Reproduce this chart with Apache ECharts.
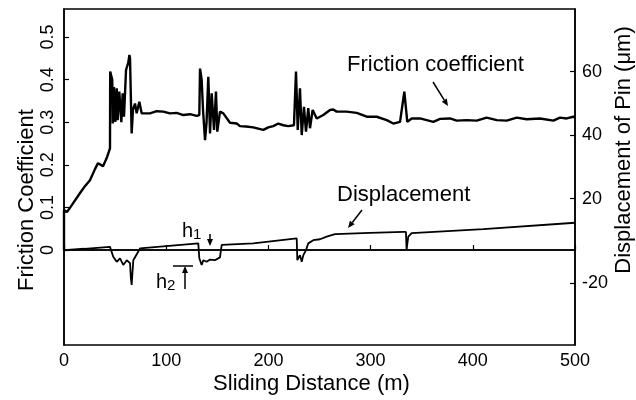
<!DOCTYPE html>
<html>
<head>
<meta charset="utf-8">
<script src="https://cdn.jsdelivr.net/npm/echarts@6/dist/echarts.min.js"></script>
<style>
  html, body { margin: 0; padding: 0; background: #fff; }
  #chart { width: 636px; height: 400px; }
</style>
</head>
<body>
<div id="chart"></div>
<script>
// [sliding distance (m), friction coefficient]
const friction = [
    [0, 0], [0, 0.094], [2.9, 0.089], [7.8, 0.106], [15.7, 0.134], [20.5, 0.150],
    [25.4, 0.164], [30.3, 0.190], [33.3, 0.204], [38.2, 0.197], [42.1, 0.218], [45.0, 0.239],
    [45.2, 0.419], [47.2, 0.40], [47.7, 0.297], [48.9, 0.383], [50.2, 0.301], [51.6, 0.380],
    [52.5, 0.305], [54.1, 0.372], [56.1, 0.30], [57.4, 0.368], [58.7, 0.313], [60.7, 0.423],
    [62.9, 0.44], [64.0, 0.458], [64.6, 0.45], [66.2, 0.274], [67.5, 0.33], [69.5, 0.344],
    [71.1, 0.321], [73.7, 0.348], [76.0, 0.321], [77.6, 0.321], [84.1, 0.321], [90.7, 0.326],
    [97.2, 0.325], [103.7, 0.321], [110.3, 0.322], [116.7, 0.317], [123.3, 0.319], [129.8, 0.315],
    [132.4, 0.317], [133.1, 0.426], [134.7, 0.40], [136.0, 0.33], [138.0, 0.258], [139.5, 0.30],
    [141.2, 0.407], [142.9, 0.274], [144.5, 0.368], [146.8, 0.282], [148.7, 0.372], [150.0, 0.278],
    [152.6, 0.325], [155.9, 0.321], [162.4, 0.299], [169.0, 0.297], [172.2, 0.291], [178.0, 0.290],
    [185.2, 0.288], [195.0, 0.282], [199.9, 0.288], [204.8, 0.291], [209.7, 0.297], [214.6, 0.293],
    [219.5, 0.291], [225.0, 0.293], [227.0, 0.419], [228.7, 0.282], [230.9, 0.38], [232.6, 0.27],
    [234.8, 0.336], [236.8, 0.278], [239.0, 0.333], [240.7, 0.286], [243.3, 0.329], [247.3, 0.309],
    [253.7, 0.317], [260.3, 0.329], [263.5, 0.330], [266.8, 0.325], [276.6, 0.325], [286.4, 0.322],
    [296.2, 0.313], [306.0, 0.313], [315.8, 0.305], [322.2, 0.297], [328.8, 0.301], [333.0, 0.372],
    [334.6, 0.368], [335.9, 0.301], [340.2, 0.309], [348.3, 0.309], [354.9, 0.305], [361.4, 0.301],
    [367.9, 0.308], [377.7, 0.309], [384.2, 0.304], [394.0, 0.305], [403.8, 0.304], [413.6, 0.311],
    [423.4, 0.305], [433.2, 0.304], [443.0, 0.311], [452.7, 0.307], [465.8, 0.309], [478.8, 0.304],
    [485.3, 0.311], [491.9, 0.309], [498.3, 0.313], [500, 0.312]
];

// [sliding distance (m), pin displacement (um)]
const displacement = [
    [0, 3.8], [20, 4.2], [45.0, 4.8], [46.7, 4.3], [48.2, 1.7], [51.6, 0.1], [54.8, 1.2],
    [58.0, -0.9], [61.4, 0.6], [64.6, -0.3], [65.4, -5.0], [66.2, -7.2], [67.8, 0.6],
    [74.4, 4.3], [76.0, 4.8], [131.4, 5.9], [132.4, 1.2], [134.7, -0.9], [136.3, 0.6],
    [139.6, 0.1], [142.9, 0.8], [147.7, 0.6], [152.6, 1.5], [154.3, 5.4], [185.2, 5.9],
    [227.7, 7.5], [228.3, 0.6], [229.3, 0.1], [230.9, 2.2], [232.6, 0.1], [234.2, 2.2],
    [236.8, 3.8], [239.0, 5.9], [243.9, 6.9], [250.5, 7.2], [257.0, 8.0], [265.2, 8.8],
    [299.4, 9.2], [332.0, 9.5], [334.6, 9.5], [335.2, 3.8], [336.0, 6.0], [336.9, 8.0],
    [340.2, 9.1], [341.8, 9.3], [410.3, 10.4], [500, 12.4]
];

const distanceTicks = [0, 100, 200, 300, 400, 500];
const frictionTicks = [0, 0.1, 0.2, 0.3, 0.4, 0.5];
const pinTickValues = [-6.6, 20, 40, 60];
const pinTickLabels = ['-20', '20', '40', '60'];

const font = '"Liberation Sans", Arial, Helvetica, sans-serif';

function arrow(x1, y1, x2, y2) {
    const a = Math.atan2(y2 - y1, x2 - x1);
    const len = 7, w = 3;
    const bx = x2 - len * Math.cos(a), by = y2 - len * Math.sin(a);
    return {
        type: 'group',
        children: [
            {type: 'line', shape: {x1: x1, y1: y1, x2: bx, y2: by}, style: {stroke: '#000', lineWidth: 1.5}},
            {type: 'polygon', shape: {points: [
                [x2, y2],
                [bx + w * Math.sin(a), by - w * Math.cos(a)],
                [bx - w * Math.sin(a), by + w * Math.cos(a)]
            ]}, style: {fill: '#000'}}
        ]
    };
}

function label(text, x, y, size) {
    return {
        type: 'text', x: x, y: y,
        style: {text: text, font: size + 'px ' + font, fill: '#000', verticalAlign: 'middle'}
    };
}

function subLabel(main, sub, x, y) {
    return {
        type: 'text', x: x, y: y,
        style: {
            text: '{m|' + main + '}{s|' + sub + '}',
            verticalAlign: 'middle',
            rich: {
                m: {fontSize: 20, fontFamily: font, fill: '#000'},
                s: {fontSize: 15, fontFamily: font, fill: '#000', padding: [8, 0, 0, 0]}
            }
        }
    };
}

const chart = echarts.init(document.getElementById('chart'));

const option = {
    animation: false,
    backgroundColor: '#fff',
    grid: {
        left: 64, right: 61, top: 9, bottom: 55,
        containLabel: false, outerBoundsMode: 'none',
        show: true, borderColor: '#000', borderWidth: 1.5
    },
    xAxis: {
        type: 'value', min: 0, max: 500, interval: 100,
        name: 'Sliding Distance (m)', nameLocation: 'middle', nameGap: 28, nameMoveOverlap: false,
        nameTextStyle: {fontSize: 22, color: '#000', fontFamily: font, padding: [0, 16, 0, 0]},
        axisLine: {show: true, lineStyle: {color: '#000', width: 1.5}},
        axisTick: {show: true, inside: true, length: 5, lineStyle: {color: '#000', width: 1.2}},
        axisLabel: {
            customValues: distanceTicks,
            fontSize: 18, color: '#000', fontFamily: font, margin: 7
        },
        splitLine: {show: false}
    },
    yAxis: [
        {
            type: 'value', min: -0.223, max: 0.566, position: 'left',
            name: 'Friction Coefficient', nameLocation: 'middle', nameRotate: 90,
            nameGap: 26, nameMoveOverlap: false,
            nameTextStyle: {fontSize: 22, color: '#000', fontFamily: font, padding: [0, 46, 0, 0]},
            axisLine: {show: true, lineStyle: {color: '#000', width: 1.5}},
            axisTick: {show: true, inside: true, length: 5, customValues: frictionTicks,
                lineStyle: {color: '#000', width: 1.2}},
            axisLabel: {
                customValues: frictionTicks, rotate: 90, margin: 7,
                fontSize: 18, color: '#000', fontFamily: font,
                formatter: v => String(v)
            },
            splitLine: {show: false}
        },
        {
            type: 'value', min: -26.1, max: 79.7, position: 'right',
            name: 'Displacement of Pin (μm)', nameLocation: 'middle', nameRotate: 90,
            nameGap: 38, nameMoveOverlap: false,
            nameTextStyle: {fontSize: 22, color: '#000', fontFamily: font, padding: [0, 0, 0, 54]},
            axisLine: {show: true, lineStyle: {color: '#000', width: 1.5}},
            axisTick: {show: true, inside: true, length: 5, customValues: pinTickValues,
                lineStyle: {color: '#000', width: 1.2}},
            axisLabel: {
                customValues: pinTickValues, margin: 7,
                fontSize: 18, color: '#000', fontFamily: font,
                formatter: v => {
                    let best = 0;
                    pinTickValues.forEach((t, i) => {
                        if (Math.abs(t - v) < Math.abs(pinTickValues[best] - v)) best = i;
                    });
                    return pinTickLabels[best];
                }
            },
            splitLine: {show: false}
        }
    ],
    series: [
        {
            name: 'Friction coefficient',
            type: 'line', yAxisIndex: 0, data: friction,
            showSymbol: false, symbol: 'none',
            lineStyle: {color: '#000', width: 2.4},
            markLine: {
                silent: true, symbol: ['none', 'none'],
                label: {show: false},
                lineStyle: {color: '#000', width: 1.5, type: 'solid'},
                data: [{yAxis: 0}]
            }
        },
        {
            name: 'Displacement',
            type: 'line', yAxisIndex: 1, data: displacement,
            showSymbol: false, symbol: 'none',
            lineStyle: {color: '#000', width: 1.8}
        }
    ],
    graphic: [
        label('Friction coefficient', 347, 65, 22),
        arrow(433, 82, 448, 106),
        label('Displacement', 337, 195, 22),
        arrow(362, 210, 348, 228),
        subLabel('h', '1', 182, 231),
        arrow(210, 234, 210, 246),
        subLabel('h', '2', 156, 282),
        {type: 'line', shape: {x1: 173, y1: 266, x2: 193, y2: 266}, style: {stroke: '#000', lineWidth: 1.5}},
        arrow(185, 289, 185, 266)
    ]
};

chart.setOption(option);
</script>
</body>
</html>
